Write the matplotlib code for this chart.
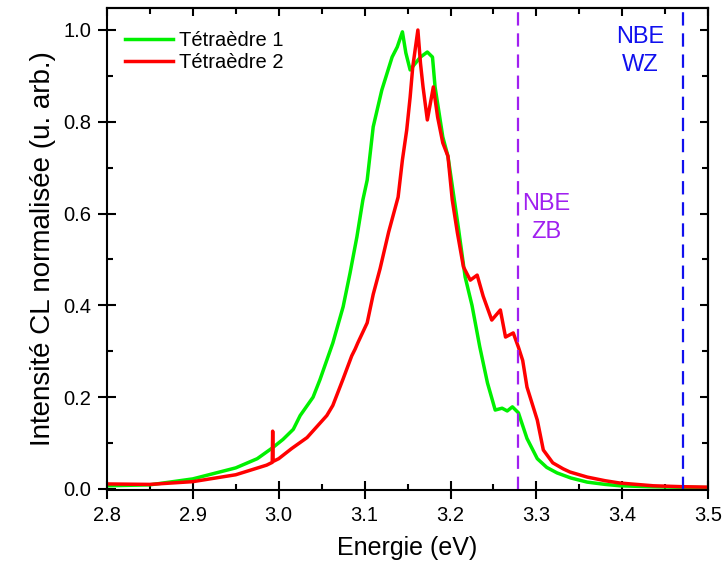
import matplotlib
matplotlib.use('Agg')
import matplotlib.pyplot as plt
from matplotlib.ticker import MultipleLocator

plt.rcParams['font.family'] = ['Liberation Sans', 'DejaVu Sans']

# Tetraedre 1 (green) - energy (eV), normalised intensity
green_e = [2.80, 2.85, 2.90, 2.95, 2.975, 2.993, 3.005, 3.017, 3.025, 3.04, 3.048, 3.063, 3.075,
           3.083, 3.091, 3.098, 3.103, 3.110, 3.120, 3.132, 3.138, 3.144, 3.148, 3.153, 3.158,
           3.165, 3.173, 3.179, 3.182, 3.191, 3.197, 3.209, 3.217, 3.225, 3.234, 3.243, 3.252,
           3.260, 3.266, 3.272, 3.279, 3.289, 3.301, 3.312, 3.324, 3.340, 3.359, 3.38, 3.397,
           3.43, 3.46, 3.50]
green_i = [0.007, 0.009, 0.022, 0.046, 0.066, 0.090, 0.108, 0.130, 0.160, 0.200, 0.238, 0.318, 0.397,
           0.470, 0.549, 0.630, 0.673, 0.789, 0.869, 0.941, 0.963, 0.996, 0.950, 0.913, 0.925,
           0.941, 0.952, 0.941, 0.876, 0.767, 0.725, 0.571, 0.462, 0.400, 0.310, 0.231, 0.172,
           0.176, 0.170, 0.179, 0.166, 0.110, 0.066, 0.047, 0.035, 0.024, 0.015, 0.010, 0.007,
           0.005, 0.004, 0.003]

# Tetraedre 2 (red)
red_e = [2.80, 2.85, 2.90, 2.95, 2.986, 2.9925, 2.993, 2.9935, 3.0, 3.015, 3.033, 3.056, 3.063,
         3.075, 3.085, 3.089, 3.092, 3.103, 3.110, 3.118, 3.128, 3.139, 3.144, 3.149, 3.153,
         3.156, 3.162, 3.165, 3.168, 3.173, 3.180, 3.185, 3.191, 3.197, 3.202, 3.208, 3.215,
         3.223, 3.231, 3.238, 3.248, 3.258, 3.264, 3.273, 3.279, 3.284, 3.289, 3.301, 3.308,
         3.319, 3.331, 3.339, 3.359, 3.38, 3.397, 3.436, 3.47, 3.50]
red_i = [0.011, 0.010, 0.016, 0.031, 0.052, 0.058, 0.126, 0.060, 0.066, 0.088, 0.112, 0.160, 0.182,
         0.240, 0.290, 0.305, 0.318, 0.362, 0.424, 0.480, 0.560, 0.636, 0.717, 0.782, 0.854,
         0.919, 1.000, 0.928, 0.876, 0.804, 0.876, 0.810, 0.754, 0.725, 0.630, 0.558, 0.484,
         0.455, 0.466, 0.420, 0.368, 0.390, 0.331, 0.340, 0.309, 0.280, 0.222, 0.150, 0.085,
         0.057, 0.044, 0.037, 0.026, 0.018, 0.013, 0.007, 0.005, 0.004]

nbe_zb = 3.279
nbe_wz = 3.47

fig = plt.figure(figsize=(7.22, 5.69), dpi=100)
ax = fig.add_axes([0.148, 0.139, 0.833, 0.847])

ax.plot(green_e, green_i, color='#00f000', lw=2.5, label='Tétraèdre 1')
ax.plot(red_e, red_i, color='#ff0000', lw=2.5, label='Tétraèdre 2')

# NBE markers
ax.axvline(nbe_zb, color='#a020f0', lw=1.6, ls=(0, (6, 3.5)))
ax.axvline(nbe_wz, color='#1010ee', lw=1.6, ls=(0, (6, 3.5)))
ax.text(3.311, 0.59, 'NBE\nZB', color='#a020f0', fontsize=17, ha='center', va='center',
        linespacing=1.35)
ax.text(3.421, 0.955, 'NBE\nWZ', color='#1010ee', fontsize=17, ha='center', va='center',
        linespacing=1.35)

ax.set_xlim(2.8, 3.5)
ax.set_ylim(-0.002, 1.048)
ax.xaxis.set_major_locator(MultipleLocator(0.1))
ax.xaxis.set_minor_locator(MultipleLocator(0.05))
ax.yaxis.set_major_locator(MultipleLocator(0.2))
ax.yaxis.set_minor_locator(MultipleLocator(0.1))
ax.xaxis.set_major_formatter(plt.FormatStrFormatter('%.1f'))
ax.yaxis.set_major_formatter(plt.FormatStrFormatter('%.1f'))
ax.tick_params(which='major', direction='inout', length=13, width=1.5, labelsize=14.5, pad=5)
ax.tick_params(which='minor', direction='in', length=4, width=1.5)

# top / right ticks pointing inward, no labels
top = ax.secondary_xaxis('top')
top.xaxis.set_major_locator(MultipleLocator(0.1))
top.xaxis.set_minor_locator(MultipleLocator(0.05))
top.tick_params(which='major', direction='in', length=6, width=1.5, labeltop=False)
top.tick_params(which='minor', direction='in', length=4, width=1.5)
right = ax.secondary_yaxis('right')
right.yaxis.set_major_locator(MultipleLocator(0.2))
right.yaxis.set_minor_locator(MultipleLocator(0.1))
right.tick_params(which='major', direction='in', length=6, width=1.5, labelright=False)
right.tick_params(which='minor', direction='in', length=4, width=1.5)

for s in ax.spines.values():
    s.set_linewidth(1.5)
for s in top.spines.values():
    s.set_linewidth(1.5)
for s in right.spines.values():
    s.set_linewidth(1.5)

ax.set_xlabel('Energie (eV)', fontsize=18, labelpad=8)
ax.set_ylabel('Intensité CL normalisée (u. arb.)', fontsize=20, labelpad=5)

ax.legend(loc='upper left', frameon=False, fontsize=14.5, handlelength=2.4,
          handletextpad=0.3, labelspacing=0.15, borderaxespad=0.5, bbox_to_anchor=(0.0, 0.99))

fig.savefig('out.png', dpi=100)
